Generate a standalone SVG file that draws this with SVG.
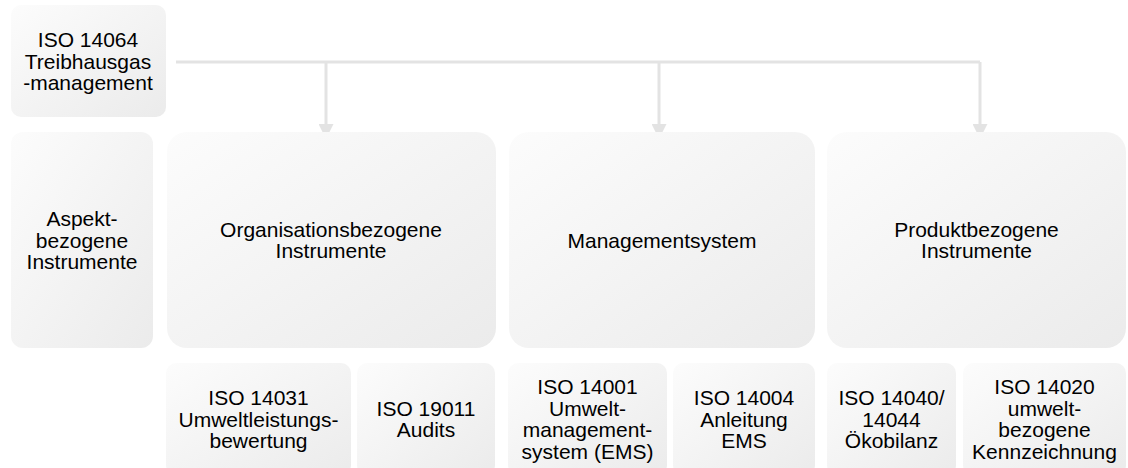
<svg xmlns="http://www.w3.org/2000/svg" width="1128" height="468" viewBox="0 0 1128 468">
  <defs>
    <linearGradient id="boxFill" x1="0" y1="0" x2="1" y2="1">
      <stop offset="0" stop-color="#fcfcfc"/>
      <stop offset="1" stop-color="#ebebeb"/>
    </linearGradient>
    <marker id="arrowHead" viewBox="0 0 15 15" refX="15" refY="7.5" markerWidth="15" markerHeight="15" markerUnits="userSpaceOnUse" orient="auto">
      <path d="M0,0 L15,7.5 L0,15 Z" fill="#e3e3e3"/>
    </marker>
    <style>
      .box { fill: url(#boxFill); }
      .lbl { font-family: "Liberation Sans", Arial, sans-serif; font-size: 21px; fill: #000; text-anchor: middle; }
      .wire { fill: none; stroke: #e3e3e3; stroke-width: 3; }
    </style>
  </defs>
  <rect width="1128" height="468" fill="#ffffff"/>

  <!-- connectors: bus line from the greenhouse-gas node fanning out to the three categories -->
  <g id="connectors">
    <path class="wire" d="M176,62 H980"/>
    <path class="wire" d="M326,62 V139" marker-end="url(#arrowHead)"/>
    <path class="wire" d="M659,62 V139" marker-end="url(#arrowHead)"/>
    <path class="wire" d="M980,62 V139" marker-end="url(#arrowHead)"/>
  </g>

  <g id="iso14064">
    <rect class="box" x="11" y="5" width="155" height="112" rx="10"/>
    <text class="lbl"><tspan x="88" y="47">ISO 14064</tspan><tspan x="88" y="68.5">Treibhausgas</tspan><tspan x="88" y="90">-management</tspan></text>
  </g>

  <g id="aspekt">
    <rect class="box" x="11" y="132" width="142" height="216" rx="12"/>
    <text class="lbl"><tspan x="82" y="226">Aspekt-</tspan><tspan x="82" y="247.5">bezogene</tspan><tspan x="82" y="269">Instrumente</tspan></text>
  </g>

  <g id="organisation">
    <rect class="box" x="167" y="132" width="329" height="216" rx="20"/>
    <text class="lbl"><tspan x="331" y="236.75">Organisationsbezogene</tspan><tspan x="331" y="258.25">Instrumente</tspan></text>
  </g>

  <g id="managementsystem">
    <rect class="box" x="509" y="132" width="306" height="216" rx="20"/>
    <text class="lbl" x="662" y="247.5">Managementsystem</text>
  </g>

  <g id="produkt">
    <rect class="box" x="827" y="132" width="299" height="216" rx="20"/>
    <text class="lbl"><tspan x="976.5" y="236.75">Produktbezogene</tspan><tspan x="976.5" y="258.25">Instrumente</tspan></text>
  </g>

  <g id="iso14031">
    <rect class="box" x="166" y="363" width="185" height="112" rx="10"/>
    <text class="lbl"><tspan x="258.5" y="405">ISO 14031</tspan><tspan x="258.5" y="426.5">Umweltleistungs-</tspan><tspan x="258.5" y="448">bewertung</tspan></text>
  </g>

  <g id="iso19011">
    <rect class="box" x="357" y="363" width="138" height="112" rx="10"/>
    <text class="lbl"><tspan x="426" y="415.75">ISO 19011</tspan><tspan x="426" y="437.25">Audits</tspan></text>
  </g>

  <g id="iso14001">
    <rect class="box" x="508" y="363" width="159" height="112" rx="10"/>
    <text class="lbl"><tspan x="587.5" y="394.25">ISO 14001</tspan><tspan x="587.5" y="415.75">Umwelt-</tspan><tspan x="587.5" y="437.25">management-</tspan><tspan x="587.5" y="458.75">system (EMS)</tspan></text>
  </g>

  <g id="iso14004">
    <rect class="box" x="673" y="363" width="142" height="112" rx="10"/>
    <text class="lbl"><tspan x="744" y="405">ISO 14004</tspan><tspan x="744" y="426.5">Anleitung</tspan><tspan x="744" y="448">EMS</tspan></text>
  </g>

  <g id="iso14040">
    <rect class="box" x="827" y="363" width="129" height="112" rx="10"/>
    <text class="lbl"><tspan x="891.5" y="405">ISO 14040/</tspan><tspan x="891.5" y="426.5">14044</tspan><tspan x="891.5" y="448">Ökobilanz</tspan></text>
  </g>

  <g id="iso14020">
    <rect class="box" x="963" y="363" width="163" height="112" rx="10"/>
    <text class="lbl"><tspan x="1044.5" y="394.25">ISO 14020</tspan><tspan x="1044.5" y="415.75">umwelt-</tspan><tspan x="1044.5" y="437.25">bezogene</tspan><tspan x="1044.5" y="458.75">Kennzeichnung</tspan></text>
  </g>
</svg>
